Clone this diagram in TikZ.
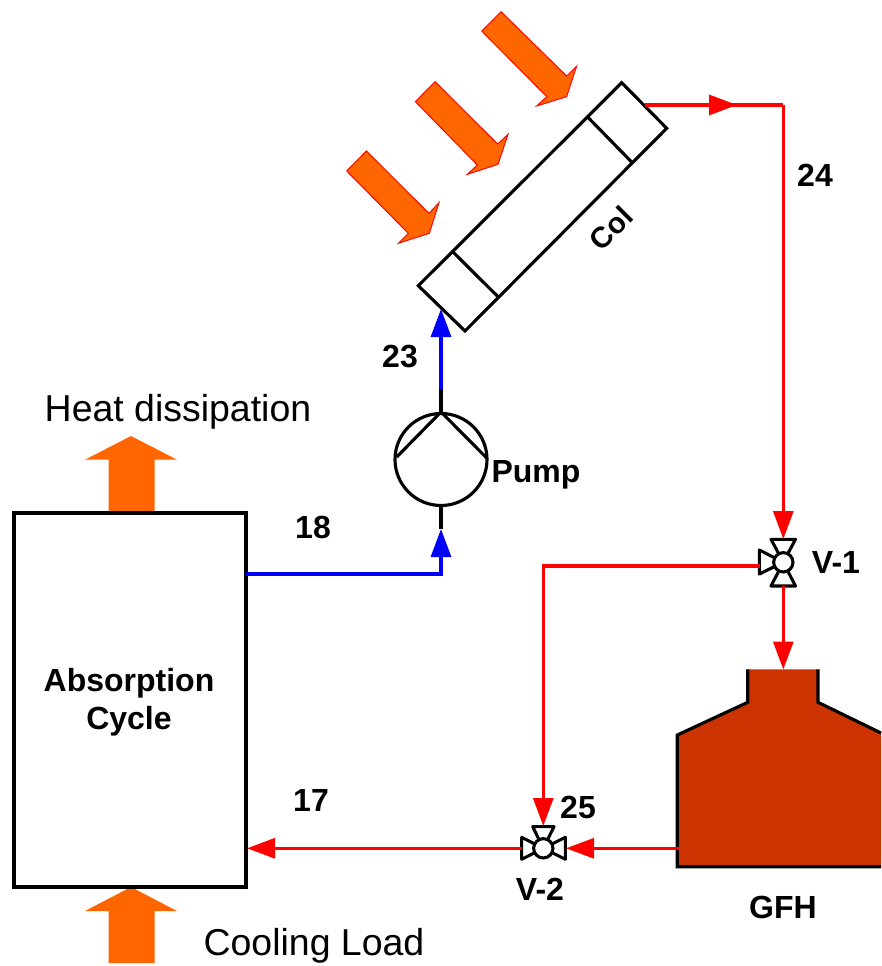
\documentclass[tikz,border=0pt]{standalone}
\usepackage{fontspec}
\setmainfont{Liberation Sans}
\usetikzlibrary{arrows.meta}
\definecolor{heat}{HTML}{FF6600}
\definecolor{gfh}{HTML}{CC3300}
\tikzset{
  blk/.style={draw=black,line width=2.35pt,line join=miter},
  hot/.style={draw=red,line width=2.3pt,line join=miter,-{Triangle[length=21pt,width=15pt,fill=red]}},
  hotplain/.style={draw=red,line width=2.3pt,line join=miter},
  cold/.style={draw=blue,line width=2.3pt,line join=miter,-{Triangle[length=21pt,width=15pt,fill=blue]}},
  stub/.style={draw=black,line width=2.4pt},
  bold/.style={font=\fontsize{24}{28}\selectfont\bfseries,inner sep=0pt},
  plain/.style={font=\fontsize{28.1}{32}\selectfont,inner sep=0pt},
  coltext/.style={font=\fontsize{22}{26}\selectfont\bfseries,inner sep=0pt,rotate=45},
  sun/.style={fill=heat,draw=red,line width=0.7pt,line join=miter},
  uparrow/.style={fill=heat,draw=none},
  valvecirc/.style={circle,draw=black,fill=white,line width=2.3pt,minimum size=14.5pt,inner sep=0pt},
  valvetri/.style={draw=black,fill=white,line width=2.3pt,line join=round},
  pumpcirc/.style={circle,draw=black,fill=white,line width=2.35pt,minimum size=69pt,inner sep=0pt},
  cyclebox/.style={rectangle,draw=black,line width=2.35pt,fill=white,minimum width=174pt,minimum height=280.5pt,inner sep=0pt,align=center}
}
\begin{document}
\begin{tikzpicture}[x=0.75pt,y=-0.75pt]
\useasboundingbox (0,0) rectangle (881,966);
\fill[white] (0,0) rectangle (881,966);

% sun arrows (coordinates measured at 3x)
\begin{scope}[shift={(340,0)},x=0.25pt,y=-0.25pt]
  \path[sun] (79,453) -- (267,640) -- (297,608) -- (268,700) -- (175,730) -- (205,700) -- (20,513) -- cycle;
  \path[sun] (285,245) -- (473,432) -- (504,403) -- (474,493) -- (382,523) -- (412,495) -- (226,305) -- cycle;
  \path[sun] (483,35) -- (680,228) -- (710,198) -- (680,290) -- (590,318) -- (620,290) -- (425,93) -- cycle;
\end{scope}

% heat arrows
\path[uparrow] (131,436) -- (177,459.7) -- (154.5,459.7) -- (154.5,512) -- (108.5,512) -- (108.5,459.7) -- (85,459.7) -- cycle;
\path[uparrow] (131,887) -- (177,911) -- (154.5,911) -- (154.5,963) -- (108.5,963) -- (108.5,911) -- (85,911) -- cycle;

% absorption cycle
\node[cyclebox] (cycle) at (130,700) {};
\node[bold] (abs1) at (129,683) {Absorption};
\node[bold] (abs2) at (129,721) {Cycle};

% collector
\coordinate (ct) at (621.7,82.7);
\coordinate (cr) at (666.7,128.3);
\coordinate (cb) at (465,331);
\coordinate (cl) at (418.3,285.7);
\coordinate (d1a) at (587.3,116.7);
\coordinate (d1b) at (632.3,162.7);
\coordinate (d2a) at (453.3,252.3);
\coordinate (d2b) at (498,296.7);
\coordinate (colin) at (441,309);
\coordinate (colout) at (645,105);
\draw[blk,fill=white] (ct) -- (cr) -- (cb) -- (cl) -- cycle;
\draw[blk] (d1a) -- (d1b);
\draw[blk] (d2a) -- (d2b);
\node[coltext] (collabel) at (611,228) {Col};

% GFH
\coordinate (gfhin) at (783.3,669.5);
\coordinate (gfhout) at (679,848.3);
\fill[gfh] (747.7,669.3) -- (818,669.3) -- (818,702.3) -- (881,733) -- (881,866.7) -- (677.3,866.7) -- (677.3,735) -- (747.7,702.3) -- cycle;
\draw[blk,line cap=butt] (747.7,669.3) -- (747.7,702.3) -- (677.3,735) -- (677.3,866.7) -- (881,866.7);
\draw[blk,line cap=butt] (818,669.3) -- (818,702.3) -- (881,733);
\node[bold] (gfhlabel) at (783,907) {GFH};

% pump
\node[pumpcirc] (pump) at (441,459.5) {};
\coordinate (pl) at (396.7,457);
\coordinate (pr) at (486.7,458);
\coordinate (pumpoutend) at (441,389);
\coordinate (pumpinend) at (441,529);
\draw[blk] (pl) -- (pump.north) -- (pr);
\draw[stub] (pump.north) -- (pumpoutend);
\draw[stub] (pump.south) -- (pumpinend);
\node[bold] (pumplabel) at (536,475) {Pump};

% valves: the triangles meet under the circle
\coordinate (v1c) at (783.3,562.3);
\draw[valvetri] (771,539.3) -- (795.5,539.3) -- (v1c) -- cycle;
\draw[valvetri] (771,586) -- (795.5,586) -- (v1c) -- cycle;
\draw[valvetri] (759.3,550) -- (759.3,574) -- (v1c) -- cycle;
\node[valvecirc] (v1) at (v1c) {};
\coordinate (v1t) at (783.3,539);
\coordinate (v1b) at (783.3,586);
\coordinate (v1l) at (760,566);
\node[bold] (v1label) at (836,562) {V-1};

\coordinate (v2c) at (543.3,848.3);
\draw[valvetri] (532.7,826.7) -- (554,826.7) -- (v2c) -- cycle;
\draw[valvetri] (521.7,837.3) -- (521.7,859.3) -- (v2c) -- cycle;
\draw[valvetri] (565.3,837.3) -- (565.3,859.3) -- (v2c) -- cycle;
\node[valvecirc] (v2) at (v2c) {};
\coordinate (v2t) at (543.3,826);
\coordinate (v2r) at (566,848.3);
\coordinate (v2l) at (522,848.3);
\node[bold] (v2label) at (540,889) {V-2};

% blue connectors
\coordinate (cyc18) at (246,574);
\coordinate (k18) at (441,574);
\draw[cold] (cyc18) -- (k18) -- (pumpinend);
\draw[cold] (pumpoutend) -- (colin);

% red connectors
\coordinate (m24) at (737,105);
\coordinate (m24b) at (730,105);
\coordinate (k24) at (783.3,105);
\draw[hotplain] (m24b) -- (k24);
\draw[hot] (colout) -- (m24);
\draw[hot] (k24) -- (v1t);
\draw[hot] (v1b) -- (gfhin);
\coordinate (k25) at (543.3,566);
\draw[hot] (v1l) -- (k25) -- (v2t);
\draw[hot] (gfhout) -- (v2r);
\coordinate (cyc17) at (247,848.3);
\draw[hot] (v2l) -- (cyc17);

% labels
\node[bold] (l24) at (815,175) {24};
\node[bold] (l23) at (400,357) {23};
\node[bold] (l18) at (313,527) {18};
\node[bold] (l17) at (311,800) {17};
\node[bold] (l25) at (578,807) {25};
\node[plain] (lheat) at (178,412) {Heat dissipation};
\node[plain] (lcool) at (314,946) {Cooling Load};
\end{tikzpicture}
\end{document}
